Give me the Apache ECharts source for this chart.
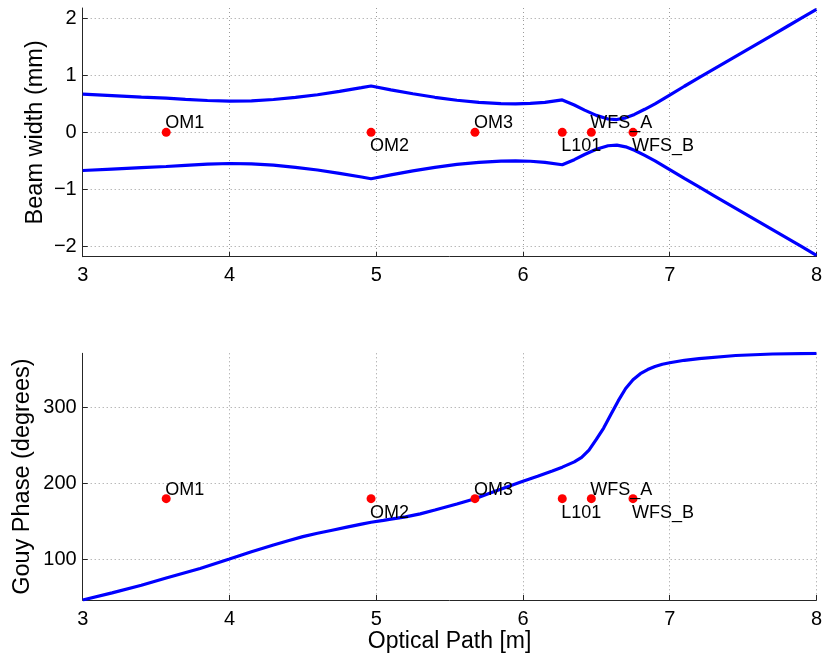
<!DOCTYPE html>
<html><head><meta charset="utf-8">
<script src="https://cdn.jsdelivr.net/npm/echarts@6/dist/echarts.min.js"></script>
<style>html,body{margin:0;padding:0;background:#fff}#c{width:825px;height:654px}</style>
</head><body><div id="c"></div>
<script>
// ---- data ----
const xTicks = [3, 4, 5, 6, 7, 8];
const widthTicks = [-2, -1, 0, 1, 2];
const gouyTicks = [100, 200, 300];

const widthX = [3.00,3.20,3.40,3.569,3.70,3.85,4.00,4.15,4.30,4.45,4.60,4.75,4.90,4.965,5.10,5.25,5.40,5.55,5.70,5.85,5.95,6.05,6.15,6.268,6.35,6.42,6.50,6.58,6.64,6.70,6.76,6.83,6.90,7.00,7.10,7.20,7.30,7.40,7.50,7.60,7.70,7.80,7.90,8.00];
const widthUpper = [0.67,0.645,0.62,0.60,0.58,0.56,0.547,0.553,0.577,0.614,0.661,0.72,0.785,0.815,0.747,0.678,0.616,0.564,0.527,0.506,0.502,0.508,0.527,0.57,0.48,0.39,0.298,0.235,0.225,0.255,0.315,0.405,0.50,0.655,0.81,0.96,1.11,1.26,1.41,1.56,1.71,1.86,2.01,2.16];
const widthLower = [-0.67,-0.645,-0.62,-0.60,-0.58,-0.56,-0.547,-0.553,-0.577,-0.614,-0.661,-0.72,-0.785,-0.815,-0.747,-0.678,-0.616,-0.564,-0.527,-0.506,-0.502,-0.508,-0.527,-0.57,-0.48,-0.39,-0.298,-0.235,-0.225,-0.255,-0.315,-0.405,-0.50,-0.655,-0.81,-0.96,-1.11,-1.26,-1.41,-1.56,-1.71,-1.86,-2.01,-2.16];

const gouyX = [3.00,3.20,3.40,3.569,3.80,4.00,4.15,4.30,4.40,4.50,4.60,4.70,4.80,4.90,4.965,5.05,5.10,5.20,5.30,5.40,5.55,5.673,5.80,5.90,6.00,6.10,6.20,6.268,6.35,6.40,6.45,6.50,6.55,6.60,6.65,6.70,6.75,6.80,6.85,6.90,6.95,7.00,7.10,7.20,7.45,7.70,8.00];
const gouyPhase = [46.6,56,66,75.5,88,100.5,110,119,124.5,130,134.5,138.5,142.5,146.5,149,151.5,153,156,160,165,173,180,189,196,203,209.5,216.5,221.5,228.5,234.5,244,258,273,291,309,325,336.5,344.5,350,354,357,359,362.2,364.5,368.5,370.5,371.4];

const opticNames = ['OM1','OM2','OM3','L101','WFS_A','WFS_B'];
const opticPos = [3.569, 4.965, 5.673, 6.268, 6.466, 6.75];
const widthMarkY = [0, 0, 0, 0, 0, 0];
const gouyMarkY = [180, 180, 180, 180, 180, 180];

// ---- chart ----
const FONT = 'Liberation Sans, Arial, Helvetica, sans-serif';
const minus = v => String(v).replace('-', '\u2212');
const gridLine = { show: true, lineStyle: { color: '#9a9a9a', width: 1, type: [1, 3] } };
const axisLine = { show: true, onZero: false, lineStyle: { color: '#262626', width: 1 } };

function xAxis(idx, withName) {
  const a = {
    type: 'value', gridIndex: idx, min: 3, max: 8,
    axisLine, axisTick: { show: true, inside: true, length: 5, customValues: xTicks, lineStyle: { color: '#262626' } },
    axisLabel: { customValues: xTicks, color: '#000', fontSize: 20, fontFamily: FONT, margin: 9, formatter: minus },
    splitLine: gridLine
  };
  if (withName) {
    a.name = 'Optical Path [m]'; a.nameLocation = 'middle'; a.nameGap = 30; a.nameMoveOverlap = false;
    a.nameTextStyle = { color: '#000', fontSize: 23, fontFamily: FONT };
  }
  return a;
}
function yAxis(idx, min, max, ticks, name, gap) {
  return {
    type: 'value', gridIndex: idx, min, max,
    name, nameLocation: 'middle', nameGap: gap, nameRotate: 90, nameMoveOverlap: false,
    nameTextStyle: { color: '#000', fontSize: 23.5, fontFamily: FONT },
    axisLine, axisTick: { show: true, inside: true, length: 5, customValues: ticks, lineStyle: { color: '#262626' } },
    axisLabel: { customValues: ticks, color: '#000', fontSize: 20, fontFamily: FONT, margin: 6, formatter: minus },
    splitLine: gridLine
  };
}
function markers(xi, ys) {
  return {
    type: 'scatter', xAxisIndex: xi, yAxisIndex: xi, symbolSize: 9, z: 5,
    itemStyle: { color: '#ff0000', opacity: 1 },
    label: { show: true, color: '#000', fontSize: 18, fontFamily: FONT, formatter: p => p.name },
    data: opticNames.map((n, i) => ({
      name: n, value: [opticPos[i], ys[i]],
      label: i % 2 === 0
        ? { position: ['50%', '50%'], align: 'left', verticalAlign: 'bottom', offset: [-1, 0] }
        : { position: ['50%', '50%'], align: 'left', verticalAlign: 'top', offset: [-1, 5] }
    }))
  };
}
const lineStyle = { color: '#0000ff', width: 3.2 };
const chart = echarts.init(document.getElementById('c'), null, { renderer: 'canvas' });
chart.setOption({
  animation: false,
  backgroundColor: '#fff',
  grid: [
    { left: 82.7, right: 4, top: 8, height: 248.7 },
    { left: 82.7, right: 4, top: 353.3, height: 247.4 }
  ],
  xAxis: [xAxis(0, false), xAxis(1, true)],
  yAxis: [
    yAxis(0, -2.185, 2.185, widthTicks, 'Beam width (mm)', 35),
    yAxis(1, 46.6, 371.4, gouyTicks, 'Gouy Phase (degrees)', 48)
  ],
  series: [
    { type: 'line', xAxisIndex: 0, yAxisIndex: 0, showSymbol: false, lineStyle, z: 3,
      data: widthX.map((x, i) => [x, widthUpper[i]]) },
    { type: 'line', xAxisIndex: 0, yAxisIndex: 0, showSymbol: false, lineStyle, z: 3,
      data: widthX.map((x, i) => [x, widthLower[i]]) },
    markers(0, widthMarkY),
    { type: 'line', xAxisIndex: 1, yAxisIndex: 1, showSymbol: false, lineStyle, z: 3,
      data: gouyX.map((x, i) => [x, gouyPhase[i]]) },
    markers(1, gouyMarkY)
  ]
});
</script></body></html>
